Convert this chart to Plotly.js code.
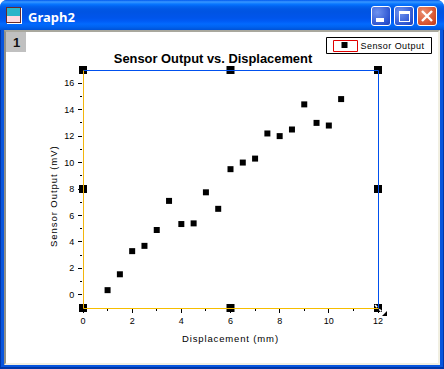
<!DOCTYPE html>
<html><head><meta charset="utf-8">
<script src="https://cdn.plot.ly/plotly-3.0.0.min.js"></script>
<style>
html,body{margin:0;padding:0;background:#fff;overflow:hidden}
#win{position:absolute;left:0;top:0;width:444px;height:369px;border-radius:7px 7px 0 0;overflow:hidden;background:#0855dd}
#bar{position:absolute;left:0;top:0;width:444px;height:30px;background:linear-gradient(#0058ee 0%,#3593ff 6%,#288eff 9%,#127dff 12%,#036ffc 16%,#0262ee 22%,#0057e5 30%,#0054e3 40%,#0055eb 60%,#005bf5 70%,#026afe 80%,#0062ef 90%,#0052d6 100%)}
#edgeL{position:absolute;left:0;top:30px;width:1px;height:339px;background:#0036a8}
#edgeR{position:absolute;left:443px;top:30px;width:1px;height:339px;background:#0036a8}
#edgeB{position:absolute;left:0;top:367px;width:444px;height:2px;background:#0036a8}
#inner{position:absolute;left:4px;top:30px;width:436px;height:335px;box-sizing:border-box;background:#fff;border-top:2px solid #a9a89e;border-left:2px solid #8f8f88;border-right:2px solid #f1efe2;border-bottom:2px solid #f1efe2}
#tab{position:absolute;left:6px;top:32px;width:20px;height:20px;background:#c0c0c0}
.btn{position:absolute;top:6px;width:20px;height:20px;box-sizing:border-box;border:1px solid #fff;border-radius:3px}
#bmin{left:371px;background:radial-gradient(circle at 30% 30%,#6f93ef,#2a52d0 75%,#1f3fb5)}
#bmax{left:394px;background:radial-gradient(circle at 30% 30%,#6f93ef,#2a52d0 75%,#1f3fb5)}
#bcls{left:417px;background:radial-gradient(circle at 30% 30%,#ea8e70,#d64f2b 70%,#b83a18)}
#gmin{position:absolute;left:4px;top:11px;width:8px;height:4px;background:#fff}
#gmax{position:absolute;left:4px;top:4px;width:11px;height:11px;box-sizing:border-box;border:1px solid #fff;border-top:3px solid #fff}
#icon{position:absolute;left:6px;top:7px;width:15px;height:16px;box-sizing:border-box;background:linear-gradient(#2bb5c9,#2bb5c9 55%,#ffd9e0 55%);border:1px solid #6a2a2a;box-shadow:1px 1px 0 #fff}
#plot{position:absolute;left:0;top:0;width:444px;height:369px}
.xtitle{letter-spacing:0.85px}
.annotation[data-index="2"] text{letter-spacing:0.95px}
.legendtext{letter-spacing:0.45px;transform:translateX(-4px)}
</style></head>
<body>
<div id="win">
  <div id="bar"></div><div id="edgeL"></div><div id="edgeR"></div><div id="edgeB"></div>
  <div id="inner"></div><div id="tab"></div><div id="icon"></div>
  <div class="btn" id="bmin"><div id="gmin"></div></div>
  <div class="btn" id="bmax"><div id="gmax"></div></div>
  <div class="btn" id="bcls"><svg width="18" height="18" style="position:absolute;left:0;top:0"><path d="M4 4L14 14M14 4L4 14" stroke="#fff" stroke-width="2.4"/></svg></div>
</div>
<div id="plot"></div>
<script>
const displacement = [1,1.5,2,2.5,3,3.5,4,4.5,5,5.5,6,6.5,7,7.5,8,8.5,9,9.5,10,10.5];
const sensorOutput = [0.35,1.55,3.3,3.7,4.9,7.1,5.35,5.4,7.75,6.5,9.5,10,10.3,12.2,12,12.5,14.4,13,12.8,14.8];
const handleX = [0,6,12,0,12,0,6,12];
const handleY = [17,17,17,8,8,-1,-1,-1];

const W = 444, H = 369;
const L = 83, T = 70, PW = 295, PH = 238;
const px = v => (v - L) / PW, py = v => (T + PH - v) / PH;
const frameLine = (x0,y0,x1,y1,c) => ({type:'line',xref:'paper',yref:'paper',x0:px(x0),y0:py(y0),x1:px(x1),y1:py(y1),line:{color:c,width:1},layer:'above'});
const font = 'Arial, "Liberation Sans", sans-serif';

const traces = [
  {x:handleX,y:handleY,mode:'markers',type:'scatter',showlegend:false,hoverinfo:'skip',cliponaxis:false,
   marker:{symbol:'square',size:8,color:'#000'}},
  {x:displacement,y:sensorOutput,mode:'markers',type:'scatter',name:'Sensor Output',cliponaxis:false,
   marker:{symbol:'square',size:6,color:'#000'}}
];
const layout = {
  width:W,height:H,autosize:false,showlegend:true,
  paper_bgcolor:'rgba(0,0,0,0)',plot_bgcolor:'rgba(0,0,0,0)',
  margin:{l:L,r:W-L-PW,t:T,b:H-T-PH,pad:0,autoexpand:false},
  font:{family:font,color:'#000',size:9},
  title:{text:'<b>Sensor Output vs. Displacement</b>',font:{family:font,size:12.9,color:'#000'},
    xref:'container',yref:'container',x:213/W,xanchor:'center',y:1-58/H,yanchor:'middle'},
  xaxis:{range:[0,12],tick0:0,dtick:2,ticks:'outside',ticklen:4,tickwidth:1,tickcolor:'#000',
    showgrid:false,zeroline:false,showline:false,tickfont:{size:9},
    minor:{dtick:1,tick0:0,ticks:'outside',ticklen:2,tickwidth:1,tickcolor:'#000',showgrid:false},
    title:{text:'Displacement (mm)',font:{size:9.5},standoff:10}},
  yaxis:{range:[-1,17],tick0:0,dtick:2,ticks:'outside',ticklen:4,tickwidth:1,tickcolor:'#000',
    showgrid:false,zeroline:false,showline:false,tickfont:{size:9},ticklabelstandoff:2,
    minor:{dtick:1,tick0:-1,ticks:'outside',ticklen:2,tickwidth:1,tickcolor:'#000',showgrid:false}},
  legend:{xref:'container',yref:'container',x:324.5/W,y:1-45/H,xanchor:'left',yanchor:'middle',
    bgcolor:'rgba(0,0,0,0)',borderwidth:0,font:{family:font,size:9,color:'#000'},
    itemwidth:30,itemclick:false,itemdoubleclick:false,tracegroupgap:0},
  annotations:[
    {text:'<b>Graph2</b>',xref:'paper',yref:'paper',x:px(26),y:py(17),xanchor:'left',yanchor:'middle',showarrow:false,
     font:{family:'"Noto Sans", sans-serif',size:13,color:'#fff'}},
    {text:'<b>1</b>',xref:'paper',yref:'paper',x:px(16),y:py(43),xanchor:'center',yanchor:'middle',showarrow:false,
     font:{family:font,size:13,color:'#111'}},
    {text:'Sensor Output (mV)',xref:'paper',yref:'paper',x:px(53),y:py(196.5),xanchor:'center',yanchor:'middle',textangle:-90,showarrow:false,
     font:{family:font,size:9.5,color:'#000'}}
  ],
  shapes:[
    frameLine(83.5,70.5,378.5,70.5,'#0050ee'),
    frameLine(378.5,70.5,378.5,308.5,'#0050ee'),
    frameLine(83.5,70.5,83.5,308.5,'#f2b50c'),
    frameLine(83.5,308.5,378.5,308.5,'#f7be00'),
    {type:'rect',xref:'paper',yref:'paper',x0:px(326.5),x1:px(431.5),y0:py(37.5),y1:py(53.5),fillcolor:'rgba(0,0,0,0)',line:{color:'#000',width:1},layer:'above'},
    {type:'rect',xref:'paper',yref:'paper',x0:px(333.5),x1:px(357.5),y0:py(40.5),y1:py(51.5),fillcolor:'rgba(0,0,0,0)',line:{color:'#e00000',width:1},layer:'above'},
    {type:'path',xref:'paper',yref:'paper',
     path:`M ${px(387)} ${py(311)} L ${px(387)} ${py(316)} L ${px(382)} ${py(316)} Z`,fillcolor:'#000',line:{width:0},layer:'above'},
    {type:'line',xref:'paper',yref:'paper',x0:px(375),y0:py(305),x1:px(383),y1:py(313),line:{color:'#fff',width:1.5,dash:'dot'},layer:'above'}
  ]
};
Plotly.newPlot('plot',traces,layout,{displayModeBar:false,staticPlot:true});
</script>
</body></html>
